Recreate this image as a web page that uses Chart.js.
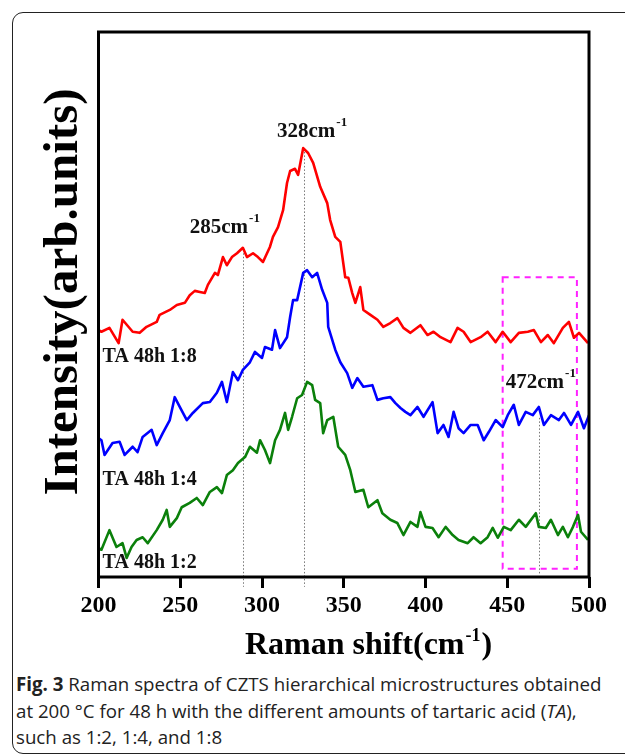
<!DOCTYPE html>
<html><head><meta charset="utf-8">
<script src="https://cdn.jsdelivr.net/npm/chart.js@4/dist/chart.umd.min.js"></script>
<style>
html,body{margin:0;padding:0;background:#fff;width:625px;height:755px;overflow:hidden;}
#frame{position:absolute;left:12px;top:12px;width:700px;height:740px;border:1.5px solid #222;border-radius:11px;}
#wrap{position:absolute;left:0;top:0;width:625px;height:665px;}
#cap{position:absolute;left:16px;top:671px;white-space:nowrap;font-family:'Open Sans';font-size:18.7px;line-height:26.5px;color:#222;}
</style></head>
<body>
<div id="frame"></div>
<div id="wrap"><canvas id="c" width="625" height="665"></canvas></div>
<div id="cap"><b>Fig. 3</b> Raman spectra of CZTS hierarchical microstructures obtained<br>at 200 °C for 48 h with the different amounts of tartaric acid (<i>TA</i>),<br>such as 1:2, 1:4, and 1:8</div>
<script>
// ---- data (Raman shift in cm-1, intensity in arb. units 0-100) ----
const shift18 = [200,201.8,206.7,212.3,214.7,220.9,225.2,229.4,235.6,237.4,243.6,247.9,252.8,255.8,258.9,262.0,265.0,266.9,271.2,273.0,276.1,278.5,281.6,284.7,288.3,290.8,294.5,297.5,300.6,304.9,306.7,309.8,312.9,315.3,317.2,320.2,322.1,325.2,328.2,331.3,335.6,339.9,341.7,344.8,347.9,350.9,352.8,355.2,357.1,360.1,362.0,366.3,370.6,374.2,378.5,382.8,386.5,390.8,396.9,401.2,404.9,409.2,415.3,419.6,423.3,427.6,433.7,438.0,442.9,447.2,452.1,457.1,462.6,466.3,470.6,474.8,478.5,484.0,487.7,490.8,493.9,499.4];
const inten18 = [45.3,45.0,45.7,42.9,47.2,45.0,44.8,45.9,46.8,48.1,49.0,49.9,50.3,51.7,52.5,52.3,52.1,53.6,55.8,55.4,58.7,57.2,58.7,59.4,60.4,58.7,59.4,58.7,57.8,60.6,62.4,64.2,67.3,72.3,74.5,74.9,73.8,78.7,77.8,76.0,71.6,68.6,65.5,62.4,61.5,55.0,54.9,52.1,50.3,53.2,49.0,48.1,47.2,45.9,46.6,47.5,45.7,44.8,46.2,44.4,45.0,44.0,43.1,45.7,45.0,43.1,44.0,45.0,43.1,45.0,43.1,44.8,45.0,45.3,43.1,44.4,42.9,45.7,46.8,43.9,44.8,42.9];

const shift14 = [200,201.8,203.7,208.6,212.9,216.0,220.9,223.9,227.0,232.5,235.6,239.3,243.6,246.6,249.7,254.0,257.7,263.8,268.1,272.4,275.5,278.5,282.2,285.3,288.3,292.6,295.7,300.0,301.8,306.1,308.0,311.0,315.3,317.2,319.0,321.5,325.2,327.6,330.7,333.7,336.8,339.9,340.5,344.8,347.9,352.1,355.2,358.3,362.0,367.5,370.6,374.2,378.5,381.6,384.7,387.7,390.8,395.1,398.8,404.3,407.4,411.0,414.1,417.2,420.2,423.3,427.6,431.9,435.6,438.7,442.9,447.2,450.3,454.0,457.1,461.3,465.6,469.3,472.4,476.7,481.6,484.7,489.0,493.3,496.9,500];
const inten14 = [25.5,25.1,22.4,24.6,24.8,22.4,23.9,22.9,25.7,27.0,24.2,26.4,28.8,33.0,31.2,28.8,30.1,31.9,32.1,33.8,35.8,32.1,37.6,36.1,38.0,39.4,41.3,40.2,42.2,41.7,45.3,42.0,44.0,47.7,50.8,50.8,55.8,56.3,55.0,55.8,52.7,50.3,45.9,41.7,39.4,37.4,34.7,36.5,34.9,35.2,32.5,32.8,33.0,31.9,31.0,30.3,29.7,31.2,29.4,32.1,26.4,27.9,25.7,30.3,27.3,26.4,27.9,27.9,25.1,26.6,28.8,27.5,29.7,31.6,27.9,30.3,29.7,31.2,27.9,29.7,28.8,30.1,27.9,30.3,27.3,29.7];

const shift12 = [200,201.8,206.7,211.0,214.7,217.2,220.2,223.3,227.0,230.1,235.6,239.3,241.7,243.6,247.9,250.9,255.8,260.1,263.8,268.1,272.4,275.5,278.5,282.2,285.3,289.6,292.6,296.9,298.8,301.8,304.9,308.0,311.0,314.1,316.0,318.4,321.5,324.5,327.6,330.7,332.5,335.6,337.4,339.9,343.6,346.6,350.9,354.0,357.1,362.0,365.0,370.6,373.6,378.5,382.8,386.5,390.8,395.1,396.9,400.0,404.3,408.0,412.3,416.6,420.2,425.8,429.4,433.7,438.0,441.1,444.2,447.9,452.1,457.1,461.3,467.5,469.3,473.6,476.7,481.0,484.0,487.1,490.2,493.3,495.1,499.4];
const inten12 = [5.3,5.0,8.6,5.5,6.2,3.5,5.5,6.8,7.3,6.2,8.6,10.5,12.3,9.2,10.8,12.8,13.6,14.5,13.2,15.6,16.5,15.4,18.7,19.6,20.9,22.0,23.9,22.8,25.1,23.3,20.9,25.1,27.0,30.1,27.0,29.4,32.8,33.4,35.8,35.2,32.5,31.9,26.4,28.8,29.4,23.9,22.4,19.6,15.6,16.0,12.8,14.1,11.7,10.5,9.9,7.7,10.1,9.2,11.9,9.2,9.0,7.3,9.2,7.7,6.8,6.2,7.3,6.2,7.3,9.0,7.2,9.2,8.6,10.5,9.2,11.7,9.2,9.0,10.5,7.7,9.2,7.3,9.2,11.4,8.3,6.8];

const seriesNames = ['TA 48h 1:8','TA 48h 1:4','TA 48h 1:2'];
const xTicks = [200,250,300,350,400,450,500];
const peakNames = ['285','328','472'];
const markShift = [288.3, 325.8, 469.3];      // dotted reference lines
const markFrom = [59.4, 78.0, 29.2];
const markTo = [-1.8, -1.8, 0.4];
const boxShift = [447.2, 492.6];              // magenta highlight box
const boxInten = [1.5, 55.0];

// ---- annotation anchors (data units) ----
const peakLabelAt = [[255.8,63.1],[309.2,80.7],[449.1,34.7]];
const seriesLabelAt = [[202.5,39.4],[202.5,16.9],[202.5,1.7]];

const pts = (xs, ys) => xs.map((v,i)=>({x:v,y:ys[i]}));
const SERIF = '"Liberation Serif","Times New Roman",serif';

function supText(ctx, base, sup, x, y, size, supSize, rise){
  ctx.font = 'bold ' + size + 'px ' + SERIF;
  ctx.textAlign = 'left'; ctx.textBaseline = 'alphabetic';
  ctx.fillText(base, x, y);
  const w = ctx.measureText(base).width;
  ctx.font = 'bold ' + supSize + 'px ' + SERIF;
  ctx.fillText(sup, x + w + 1, y - rise);
  return x + w + 1 + ctx.measureText(sup).width;
}

const deco = {
  id: 'deco',
  beforeDatasetsDraw(chart){
    const {ctx, scales:{x, y}} = chart;
    ctx.save();
    ctx.strokeStyle = '#777'; ctx.lineWidth = 1; ctx.setLineDash([1.5, 2]);
    markShift.forEach((s,i)=>{
      const px = Math.round(x.getPixelForValue(s)) + 0.5;
      ctx.beginPath(); ctx.moveTo(px, y.getPixelForValue(markFrom[i])); ctx.lineTo(px, y.getPixelForValue(markTo[i])); ctx.stroke();
    });
    ctx.strokeStyle = '#ff22ff'; ctx.lineWidth = 2; ctx.setLineDash([6, 5]);
    const bx0 = x.getPixelForValue(boxShift[0]), bx1 = x.getPixelForValue(boxShift[1]);
    const by0 = y.getPixelForValue(boxInten[1]), by1 = y.getPixelForValue(boxInten[0]);
    ctx.strokeRect(bx0, by0, bx1-bx0, by1-by0);
    ctx.restore();
  },
  afterDatasetsDraw(chart){
    const {ctx, chartArea:a, scales:{x, y}} = chart;
    ctx.save();
    ctx.setLineDash([]);
    ctx.strokeStyle = '#000'; ctx.lineWidth = 3;
    ctx.strokeRect(a.left, a.top, a.right-a.left, a.bottom-a.top);
    ctx.fillStyle = '#111';
    peakNames.forEach((p,i)=>{
      supText(ctx, p + 'cm', '-1', x.getPixelForValue(peakLabelAt[i][0]), y.getPixelForValue(peakLabelAt[i][1]), 21, 13, 11);
    });
    ctx.font = 'bold 20px ' + SERIF; ctx.textAlign='left'; ctx.textBaseline='alphabetic';
    seriesNames.forEach((n,i)=>{
      ctx.fillText(n, x.getPixelForValue(seriesLabelAt[i][0]), y.getPixelForValue(seriesLabelAt[i][1]));
    });
    // x axis title
    ctx.fillStyle = '#000';
    const tx = x.getPixelForValue(289.6), ty = a.bottom + 77;
    const end = supText(ctx, 'Raman shift(cm', '-1', tx, ty, 32, 18, 13);
    ctx.font = 'bold 32px ' + SERIF;
    ctx.fillText(')', end + 1, ty);
    // y axis title
    ctx.translate(a.left - 22, 292);
    ctx.rotate(-Math.PI/2);
    ctx.textAlign = 'center'; ctx.textBaseline = 'alphabetic';
    ctx.font = 'bold 49px ' + SERIF;
    ctx.fillText('Intensity(arb.units)', 0, 0);
    ctx.restore();
  }
};

const colors = ['#ff0000','#0000ff','#0b800b'];
new Chart(document.getElementById('c'), {
  type: 'line',
  data: { datasets: [
    {label: seriesNames[0], data: pts(shift18, inten18), borderColor: colors[0]},
    {label: seriesNames[1], data: pts(shift14, inten14), borderColor: colors[1]},
    {label: seriesNames[2], data: pts(shift12, inten12), borderColor: colors[2]}
  ]},
  options: {
    responsive: false, animation: false, devicePixelRatio: 1,
    layout: {padding: {top: 32, right: 36, left: 0, bottom: 0}},
    elements: {point: {radius: 0}, line: {borderWidth: 2.6, tension: 0, fill: false, borderJoinStyle: 'round'}},
    plugins: {legend: {display: false}, tooltip: {enabled: false}},
    scales: {
      x: {type: 'linear', min: 200, max: 500,
        afterBuildTicks: s => { s.ticks = xTicks.map(v=>({value:v})); },
        afterFit: s => { s.height = 88; },
        border: {display: false},
        grid: {drawOnChartArea: false, drawTicks: true, tickLength: 11, lineWidth: 3, color: '#000'},
        ticks: {color: '#000', padding: 3, font: {family: SERIF, size: 24, weight: 'bold'}, callback: v => String(v)}
      },
      y: {type: 'linear', min: 0, max: 100,
        afterFit: s => { s.width = 98.5; },
        border: {display: false}, grid: {display: false}, ticks: {display: false}
      }
    }
  },
  plugins: [deco]
});
</script>
</body></html>
